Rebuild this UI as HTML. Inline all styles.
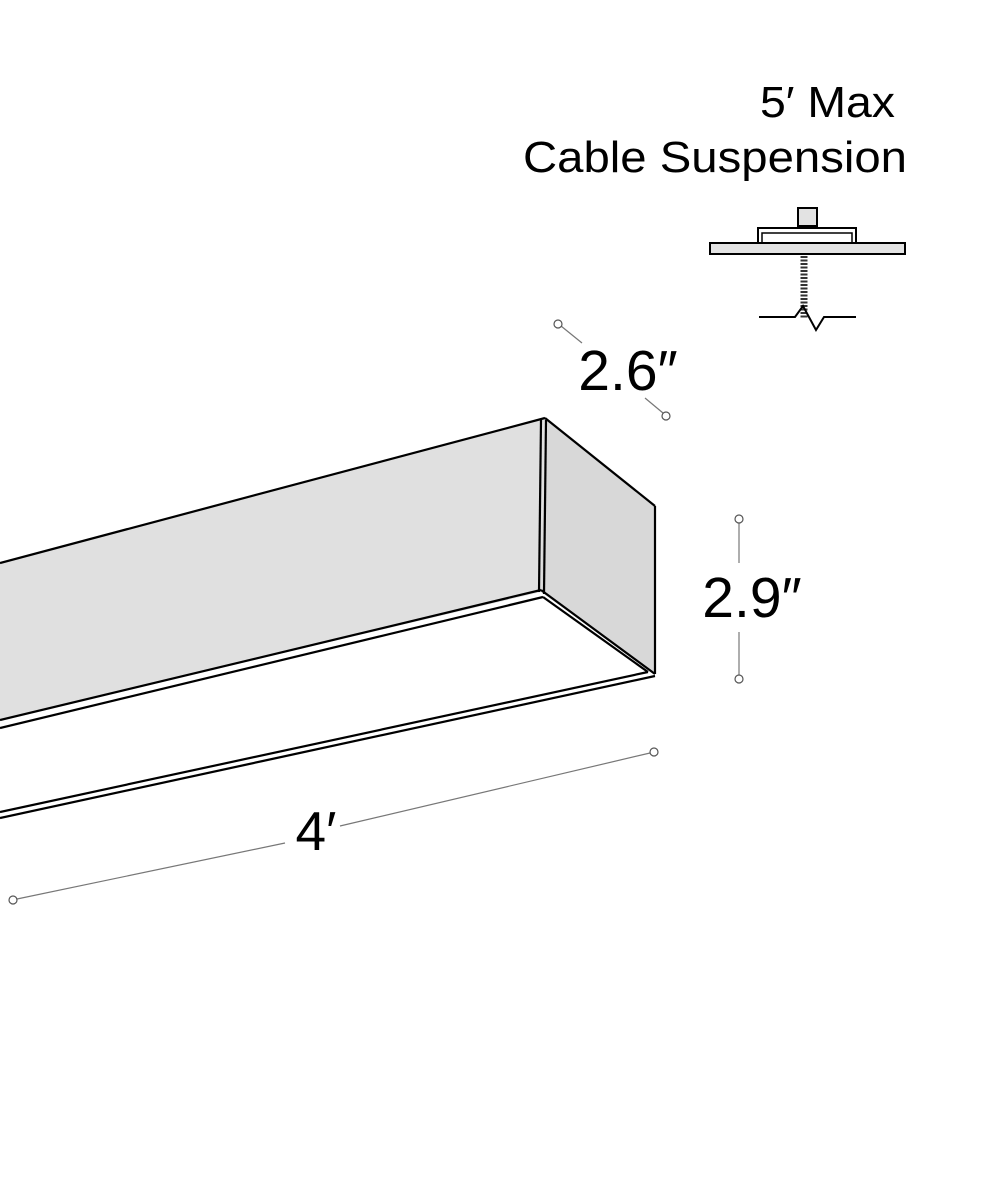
<!DOCTYPE html>
<html><head><meta charset="utf-8"><style>
html,body{margin:0;padding:0;background:#fff;}
svg{display:block}
text{font-family:"Liberation Sans",sans-serif;fill:#000}
</style></head><body>
<svg width="1000" height="1200" viewBox="0 0 1000 1200" xmlns="http://www.w3.org/2000/svg">
<rect width="1000" height="1200" fill="#fff"/>
<!-- titles -->
<text x="760" y="117" font-size="44" textLength="135" lengthAdjust="spacingAndGlyphs">5′ Max</text>
<text x="523" y="172" font-size="44" textLength="384" lengthAdjust="spacingAndGlyphs">Cable Suspension</text>
<!-- canopy -->
<g stroke="#000" stroke-width="2" fill="#e3e3e3">
<rect x="798" y="208" width="19" height="18" fill="#e3e3e3"/>
<rect x="758" y="228" width="98" height="15" fill="#fff"/>
<rect x="762" y="233" width="90" height="10" fill="#fff" stroke-width="1.5"/>
<rect x="710" y="243" width="195" height="11"/>
</g>
<path d="M804 256 L804 318" stroke="#333" stroke-width="7" stroke-dasharray="2 1.5"/>
<polyline points="759,317 795,317 803,306 816,330 824,317 856,317" fill="none" stroke="#000" stroke-width="2"/>
<!-- fixture -->
<polygon points="0,563 545,418 541,592 0,720" fill="#e0e0e0"/>
<polygon points="545,418 655,506 655,673 541,592" fill="#d8d8d8"/>
<g stroke="#000" stroke-width="2.2" fill="none">
<line x1="0" y1="563" x2="545" y2="418"/>
<line x1="545" y1="418" x2="655" y2="506"/>
<line x1="655" y1="506" x2="655" y2="674"/>
<line x1="541" y1="420" x2="539" y2="592"/>
<line x1="546" y1="420" x2="544" y2="594"/>
<line x1="0" y1="720" x2="541" y2="590"/>
<line x1="0" y1="728" x2="543" y2="597"/>
<line x1="541" y1="590" x2="655" y2="674"/>
<line x1="543" y1="597" x2="648" y2="672"/>
<line x1="0" y1="812" x2="648" y2="672"/>
<line x1="0" y1="818" x2="655" y2="676"/>
</g>
<!-- dimension lines -->
<g stroke="#777" stroke-width="1.2" fill="none">
<line x1="561" y1="326" x2="582" y2="343"/>
<line x1="645" y1="398" x2="663" y2="413"/>
<line x1="739" y1="523" x2="739" y2="563"/>
<line x1="739" y1="632" x2="739" y2="675"/>
<line x1="17" y1="899" x2="285" y2="843"/>
<line x1="340" y1="826" x2="650" y2="753"/>
</g>
<g stroke="#555" stroke-width="1.2" fill="#fff">
<circle cx="558" cy="324" r="4"/>
<circle cx="666" cy="416" r="4"/>
<circle cx="739" cy="519" r="4"/>
<circle cx="739" cy="679" r="4"/>
<circle cx="654" cy="752" r="4"/>
<circle cx="13" cy="900" r="4"/>
</g>
<text x="628" y="390" font-size="57" text-anchor="middle">2.6″</text>
<text x="752" y="617" font-size="57" text-anchor="middle">2.9″</text>
<text x="316" y="850" font-size="55" text-anchor="middle">4′</text>
</svg>
</body></html>
